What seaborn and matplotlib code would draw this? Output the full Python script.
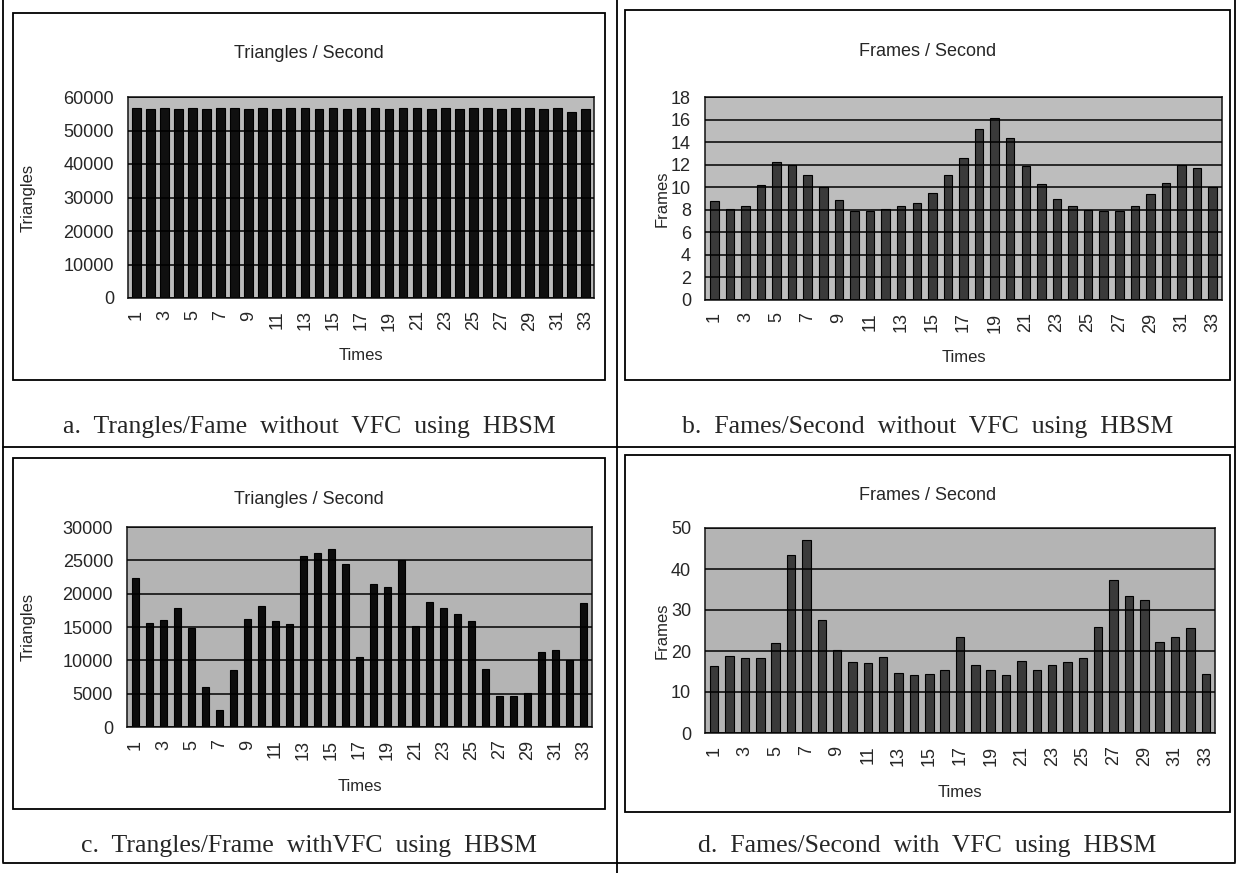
import numpy as np
import pandas as pd
import matplotlib
matplotlib.use("Agg")
import matplotlib.pyplot as plt
from matplotlib.lines import Line2D
from matplotlib.patches import Rectangle
import seaborn as sns

sns.set_theme(style="white")
plt.rcParams['font.family'] = ['Liberation Sans', 'DejaVu Sans']

# data
times = list(range(1, 34))
tri_no_vfc = [56800, 56500, 56600, 56400, 56700, 56500, 56800, 56600, 56500, 56700, 56400,
              56600, 56800, 56500, 56700, 56400, 56600, 56800, 56500, 56700, 56600, 56400,
              56800, 56500, 56700, 56600, 56500, 56800, 56600, 56400, 56700, 55500, 56500]
fps_no_vfc = [8.8, 8.1, 8.3, 10.2, 12.2, 12.0, 11.1, 10.0, 8.9, 7.9, 7.9, 8.1, 8.3, 8.6, 9.5,
              11.1, 12.6, 15.2, 16.1, 14.4, 11.9, 10.3, 9.0, 8.3, 8.0, 7.9, 7.9, 8.3, 9.4,
              10.4, 12.0, 11.7, 10.0]
tri_vfc = [22300, 15600, 16100, 17800, 14800, 6000, 2600, 8600, 16200, 18100, 15900, 15400,
           25600, 26100, 26700, 24500, 10500, 21400, 21000, 25000, 15200, 18700, 17800, 16900,
           15900, 8700, 4600, 4600, 5100, 11300, 11600, 10100, 18600]
fps_vfc = [16.3, 18.9, 18.3, 18.3, 22.0, 43.5, 47.0, 27.6, 20.3, 17.3, 17.1, 18.5, 14.6, 14.1,
           14.5, 15.4, 23.4, 16.5, 15.3, 14.2, 17.5, 15.3, 16.5, 17.2, 18.2, 25.9, 37.2, 33.3,
           32.5, 22.1, 23.3, 25.6, 14.5]

W, H = 1238, 873
fig = plt.figure(figsize=(W / 100, H / 100), dpi=100)
fig.patch.set_facecolor('white')


def fx(x):
    return x / W


def fy(y):
    return 1 - y / H


def box(x0, y0, x1, y1, lw=1.3):
    fig.add_artist(Rectangle((fx(x0), fy(y1)), fx(x1) - fx(x0), fy(y0) - fy(y1),
                             fill=False, lw=lw, ec='black', transform=fig.transFigure))


def hline(x0, x1, y, lw=1.3):
    fig.add_artist(Line2D([fx(x0), fx(x1)], [fy(y), fy(y)], lw=lw, color='black',
                          transform=fig.transFigure))


def vline(x, y0, y1, lw=1.3):
    fig.add_artist(Line2D([fx(x), fx(x)], [fy(y0), fy(y1)], lw=lw, color='black',
                          transform=fig.transFigure))


# outer grid of the figure
vline(3, 0, 862)
vline(617, 0, 873)
vline(1235, 0, 862)
hline(3, 1235, 447)
hline(3, 1235, 863)

panels = [
    # values, ylabel, ymax, step, plot px (x0, y0, x1, y1), box px, bar color, width, bg
    (tri_no_vfc, 'Triangles', 60000, 10000, (128, 97, 594, 298), (13, 13, 605, 380),
     '#101010', 0.62, '#bcbcbc', 'Triangles / Second',
     'a.  Trangles/Fame  without  VFC  using  HBSM'),
    (fps_no_vfc, 'Frames', 18, 2, (705, 97, 1222, 300), (625, 10, 1230, 380),
     '#3a3a3a', 0.55, '#bdbdbd', 'Frames / Second',
     'b.  Fames/Second  without  VFC  using  HBSM'),
    (tri_vfc, 'Triangles', 30000, 5000, (127, 527, 592, 727), (13, 458, 605, 809),
     '#0c0c0c', 0.5, '#b4b4b4', 'Triangles / Second',
     'c.  Trangles/Frame  withVFC  using  HBSM'),
    (fps_vfc, 'Frames', 50, 10, (705, 528, 1215, 733), (625, 455, 1230, 812),
     '#3a3a3a', 0.55, '#b4b4b4', 'Frames / Second',
     'd.  Fames/Second  with  VFC  using  HBSM'),
]

for vals, ylab, ymax, step, (px0, py0, px1, py1), (bx0, by0, bx1, by1), col, bw, bg, title, cap in panels:
    box(bx0, by0, bx1, by1)
    ax = fig.add_axes([fx(px0), fy(py1), fx(px1) - fx(px0), fy(py0) - fy(py1)])
    df = pd.DataFrame({'Times': [str(t) for t in times], 'val': vals})
    sns.barplot(data=df, x='Times', y='val', ax=ax, color=col, width=bw,
                edgecolor='black', linewidth=0.8, saturation=1)
    ax.set_facecolor(bg)
    ax.set_ylim(0, ymax)
    ax.set_xlim(-0.6, len(times) - 0.4)
    yt = np.arange(0, ymax + step / 2, step)
    ax.set_yticks(yt)
    ax.set_yticklabels([f'{int(v)}' for v in yt], fontsize=13)
    ax.set_xticks(range(0, len(times), 2))
    ax.set_xticklabels([str(t) for t in times[::2]], rotation=90, fontsize=13)
    ax.tick_params(axis='y', length=0, pad=10)
    ax.tick_params(axis='x', length=0, pad=9)
    ax.set_axisbelow(False)
    ax.yaxis.grid(True, color='black', lw=1.1)
    for s in ax.spines.values():
        s.set_color('#222222')
        s.set_linewidth(1.2)
    ax.set_xlabel('Times', fontsize=12)
    ax.set_ylabel(ylab, fontsize=12)
    pw = px1 - px0
    ph = py1 - py0
    if ylab == 'Triangles':
        ax.yaxis.set_label_coords((36 - px0) / pw, 0.5)
    else:
        ax.yaxis.set_label_coords((670 - px0) / pw, 0.5)
    ax.xaxis.set_label_coords(0.5, -(50 if by0 < 100 else 52) / ph)
    fig.text(fx((bx0 + bx1) / 2), fy(by0 + 41), title, ha='center', va='center', fontsize=13)
    fig.text(fx((bx0 + bx1) / 2), fy(427 if by0 < 100 else 846), cap, ha='center', va='center',
             fontsize=18.5, family=['Liberation Serif', 'DejaVu Serif'])

fig.savefig('out.png', dpi=100)
